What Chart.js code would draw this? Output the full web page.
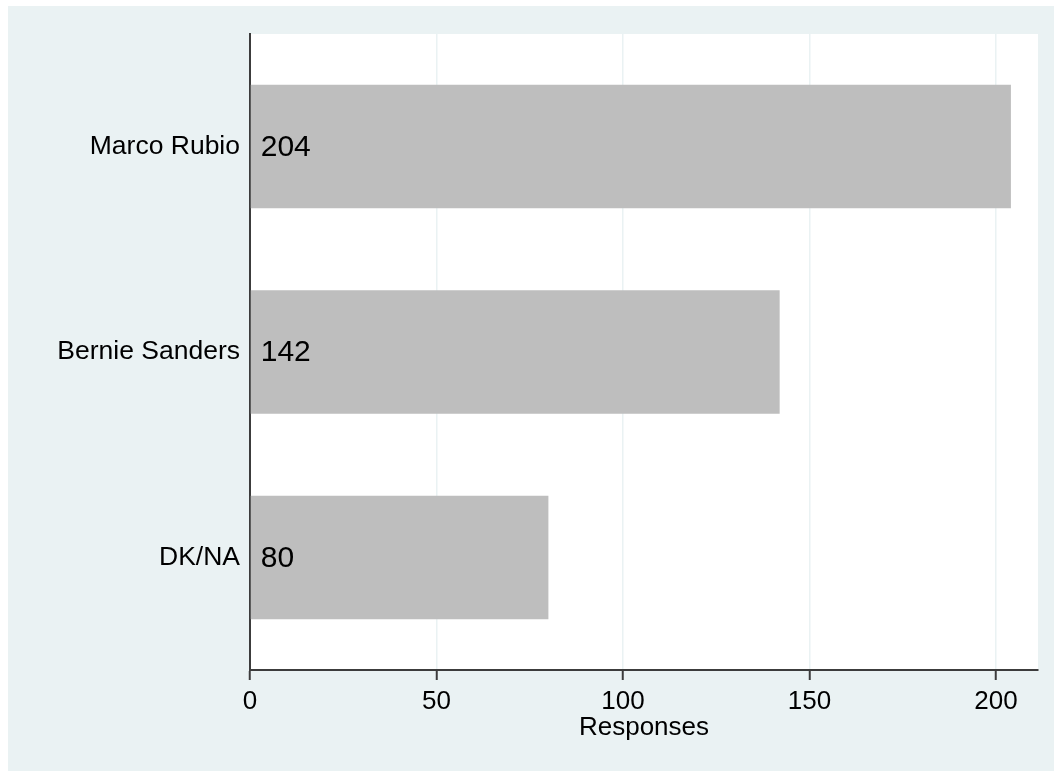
<!DOCTYPE html>
<html>
<head>
<meta charset="utf-8">
<script src="https://cdn.jsdelivr.net/npm/chart.js@4"></script>
<style>
  html, body { margin: 0; padding: 0; background: #ffffff; overflow: hidden; }
  #wrap { position: absolute; left: 8px; top: 6px; width: 1046px; height: 765px; background: #EAF2F3; }
  canvas { display: block; }
</style>
</head>
<body>
<div id="wrap"><canvas id="c" width="1046" height="765"></canvas></div>
<script>
const categories = ["Marco Rubio", "Bernie Sanders", "DK/NA"];
const responses = [204, 142, 80];
const xTicks = [0, 50, 100, 150, 200];
const xTitle = "Responses";

const FONT = '"Liberation Sans", Arial, Helvetica, sans-serif';

const plotBg = {
  id: 'plotBg',
  beforeDraw(chart) {
    const a = chart.chartArea, ctx = chart.ctx;
    ctx.save();
    ctx.fillStyle = '#ffffff';
    ctx.fillRect(a.left, a.top, a.right - a.left, a.bottom - a.top);
    ctx.restore();
  }
};

const valueLabels = {
  id: 'valueLabels',
  afterDatasetsDraw(chart) {
    const ctx = chart.ctx;
    const meta = chart.getDatasetMeta(0);
    ctx.save();
    ctx.font = '30px ' + FONT;
    ctx.fillStyle = '#000000';
    ctx.textAlign = 'left';
    ctx.textBaseline = 'middle';
    meta.data.forEach((el, i) => {
      ctx.fillText(String(responses[i]), el.base + 10, el.y + 1);
    });
    ctx.restore();
  }
};

new Chart(document.getElementById('c'), {
  type: 'bar',
  data: {
    datasets: [{
      data: responses.map((v, i) => ({ x: v, y: i })),
      backgroundColor: '#BEBEBE',
      borderWidth: 0,
      categoryPercentage: 1,
      barPercentage: 0.6
    }]
  },
  options: {
    indexAxis: 'y',
    responsive: false,
    animation: false,
    layout: { padding: { top: 28, right: 16, left: 0, bottom: 0 } },
    plugins: { legend: { display: false }, tooltip: { enabled: false } },
    scales: {
      x: {
        type: 'linear',
        position: 'bottom',
        min: 0,
        max: 211.26,
        offset: false,
        afterBuildTicks: s => { s.ticks = xTicks.map(v => ({ value: v })); },
        afterFit: s => { s.height = 101; },
        grid: { color: '#EAF2F3', lineWidth: 1.5, tickColor: '#3c3c3c', tickWidth: 2, tickLength: 10, drawTicks: true, offset: false },
        border: { display: true, color: '#3c3c3c', width: 2 },
        ticks: { color: '#000000', font: { family: FONT, size: 26 }, padding: 6, maxRotation: 0 },
        title: { display: true, text: xTitle, color: '#000000', font: { family: FONT, size: 26 }, padding: { top: 0, bottom: 28 } }
      },
      y: {
        type: 'linear',
        reverse: true,
        min: -0.5474,
        max: 2.5474,
        offset: false,
        afterBuildTicks: s => { s.ticks = categories.map((c, i) => ({ value: i })); },
        afterFit: s => { s.width = 242; },
        grid: { display: false, drawTicks: false, offset: false },
        border: { display: true, color: '#3c3c3c', width: 2 },
        ticks: { color: '#000000', font: { family: FONT, size: 26.5 }, padding: 10, callback: v => categories[v] }
      }
    }
  },
  plugins: [plotBg, valueLabels]
});
</script>
</body>
</html>
